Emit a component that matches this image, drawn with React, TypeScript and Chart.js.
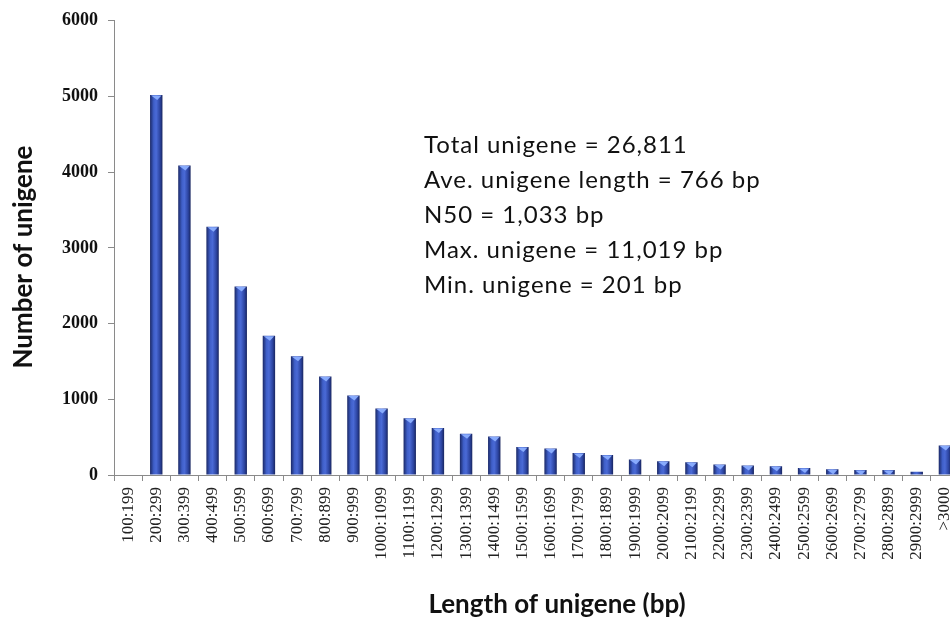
import React, { useEffect, useRef } from "react";
import { Chart, registerables } from "chart.js";

Chart.register(...registerables);

const categories = [
  "100:199", "200:299", "300:399", "400:499", "500:599", "600:699", "700:799",
  "800:899", "900:999", "1000:1099", "1100:1199", "1200:1299", "1300:1399",
  "1400:1499", "1500:1599", "1600:1699", "1700:1799", "1800:1899", "1900:1999",
  "2000:2099", "2100:2199", "2200:2299", "2300:2399", "2400:2499", "2500:2599",
  "2600:2699", "2700:2799", "2800:2899", "2900:2999", ">3000",
];

const unigeneCounts = [
  0, 5020, 4090, 3280, 2490, 1840, 1570, 1300, 1050, 880, 750, 620, 545,
  510, 370, 350, 290, 265, 205, 180, 167, 140, 127, 114, 92, 75, 66, 66, 44, 390,
];

const summaryLines = [
  "Total unigene = 26,811",
  "Ave. unigene length = 766 bp",
  "N50 = 1,033 bp",
  "Max. unigene = 11,019 bp",
  "Min. unigene = 201 bp",
];

const yTicks = [0, 1000, 2000, 3000, 4000, 5000, 6000];

const xAxisTitle = "Length of unigene (bp)";
const yAxisTitle = "Number of unigene";

const BAR_PCT = 0.44;

const barDecor = {
  id: "barDecor",
  afterDatasetsDraw(chart: any) {
    const ctx = chart.ctx;
    const meta = chart.getDatasetMeta(0);
    ctx.save();
    meta.data.forEach((bar: any) => {
      const { x, y, base, width } = bar.getProps(["x", "y", "base", "width"], true);
      if (!isFinite(x) || !isFinite(y) || base - y < 4) return;
      const l = x - width / 2;
      const r = x + width / 2;
      ctx.beginPath();
      ctx.moveTo(l + 1, y + 0.5);
      ctx.lineTo(r - 1, y + 0.5);
      ctx.lineTo(x + 1, y + 5);
      ctx.closePath();
      ctx.fillStyle = "rgba(140,175,255,0.95)";
      ctx.fill();
    });
    ctx.restore();
  },
};

const textLayer = {
  id: "textLayer",
  afterDraw(chart: any) {
    const ctx = chart.ctx;
    ctx.save();
    ctx.fillStyle = "#111";
    ctx.font = "24px Lato";
    (ctx as any).letterSpacing = "1px";
    ctx.textAlign = "left";
    ctx.textBaseline = "alphabetic";
    summaryLines.forEach((line, i) => {
      ctx.fillText(line, 424, 153 + i * 35);
    });
    (ctx as any).letterSpacing = "0px";
    ctx.font = "bold 26px Lato";
    ctx.textAlign = "center";
    ctx.textBaseline = "middle";
    ctx.fillText(xAxisTitle, 557, 605);
    ctx.translate(24, 257);
    ctx.rotate(-Math.PI / 2);
    ctx.fillText(yAxisTitle, 0, 0);
    ctx.restore();
  },
};

export default function App() {
  const ref = useRef<HTMLCanvasElement | null>(null);

  useEffect(() => {
    const canvas = ref.current;
    if (!canvas) return;
    const chart = new Chart(canvas, {
      type: "bar",
      data: {
        labels: categories,
        datasets: [
          {
            data: unigeneCounts,
            categoryPercentage: 1,
            barPercentage: BAR_PCT,
            borderWidth: 0,
            backgroundColor: (c: any) => {
              const ch = c.chart;
              const xs = ch.scales && ch.scales.x;
              if (!xs || c.dataIndex === undefined) return "#3450b0";
              const cx = xs.getPixelForValue(c.dataIndex);
              const w = (xs.width / categories.length) * BAR_PCT;
              if (!isFinite(cx) || !isFinite(w) || w <= 0) return "#3450b0";
              const g = ch.ctx.createLinearGradient(cx - w / 2, 0, cx + w / 2, 0);
              g.addColorStop(0, "#1a2866");
              g.addColorStop(0.3, "#3f5fc8");
              g.addColorStop(0.5, "#4a6ad6");
              g.addColorStop(0.8, "#2c44a0");
              g.addColorStop(1, "#18255f");
              return g;
            },
          },
        ],
      },
      options: {
        responsive: false,
        animation: false,
        layout: { padding: { left: 0, top: 19, right: 16, bottom: 5 } },
        plugins: {
          legend: { display: false },
          tooltip: { enabled: false },
        },
        scales: {
          x: {
            offset: true,
            grid: {
              offset: true,
              drawOnChartArea: false,
              drawTicks: true,
              tickLength: 6,
              color: "#8a8a8a",
              tickColor: "#8a8a8a",
            },
            border: { color: "#8a8a8a", width: 1 },
            ticks: {
              autoSkip: false,
              minRotation: 90,
              maxRotation: 90,
              padding: 6,
              color: "#222",
              font: { family: "'Liberation Serif', 'Times New Roman', serif", size: 17 },
            },
            afterFit: (s: any) => {
              s.height = 146;
            },
          },
          y: {
            min: 0,
            max: 6000,
            afterBuildTicks: (s: any) => {
              s.ticks = yTicks.map((v) => ({ value: v }));
            },
            grid: {
              drawOnChartArea: false,
              drawTicks: true,
              tickLength: 6,
              color: "#8a8a8a",
              tickColor: "#8a8a8a",
            },
            border: { color: "#8a8a8a", width: 1 },
            ticks: {
              padding: 10,
              color: "#111",
              callback: (v: any) => String(v),
              font: { family: "'Liberation Serif', 'Times New Roman', serif", size: 18, weight: "bold" },
            },
            afterFit: (s: any) => {
              s.width = 114;
            },
          },
        },
      },
      plugins: [barDecor, textLayer],
    });
    return () => chart.destroy();
  }, []);

  return (
    <div
      style={{
        position: "fixed",
        left: 0,
        top: 0,
        width: 950,
        height: 626,
        overflow: "hidden",
        background: "#fff",
      }}
    >
      <canvas ref={ref} width={975} height={626} style={{ display: "block", width: 975, height: 626 }} />
    </div>
  );
}
